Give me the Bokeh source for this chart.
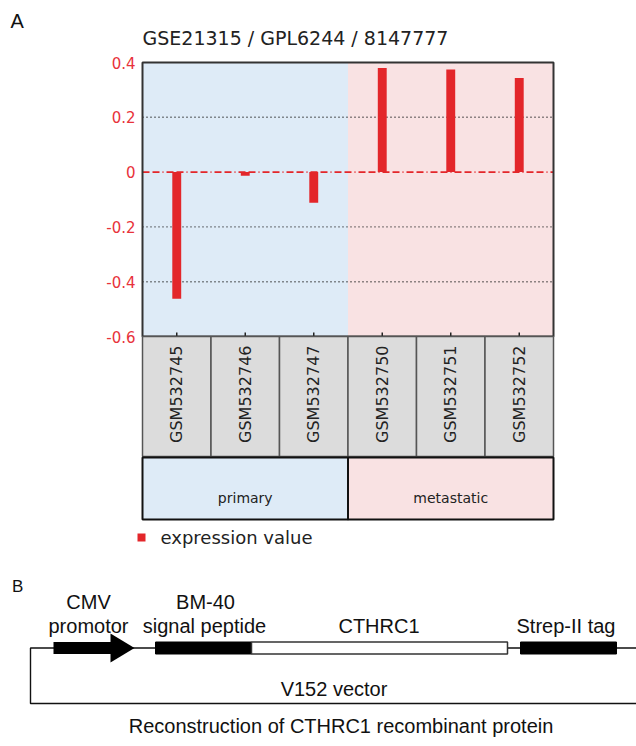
from bokeh.plotting import figure
from bokeh.models import Range1d
from bokeh.core.properties import value
from bokeh.embed import file_html
from bokeh.resources import INLINE

# ---------------- data (panel A) ----------------
samples = ["GSM532745", "GSM532746", "GSM532747", "GSM532750", "GSM532751", "GSM532752"]
expression = [-0.462, -0.013, -0.112, 0.380, 0.374, 0.343]
sample_group = ["primary", "primary", "primary", "metastatic", "metastatic", "metastatic"]
group_names = ["primary", "metastatic"]
group_colors = ["#deebf7", "#f9e2e3"]
y_ticks = [0.4, 0.2, 0, -0.2, -0.4, -0.6]
grid_ticks = [0.2, -0.2, -0.4]
title_text = "GSE21315 / GPL6244 / 8147777"
legend_text = "expression value"

# ---------------- data (panel B, schematic) ----------------
b_labels = ["CMV", "promotor", "BM-40", "signal peptide", "CTHRC1", "Strep-II tag", "V152 vector"]
b_caption = "Reconstruction of CTHRC1 recombinant protein"

RED = "#e3262a"
TICK_RED = "#e8323a"
FONT_A = "DejaVu Sans"
FONT_B = "Liberation Sans"
W, H = 636, 746

# layout: panel-A box left edge at px 142, value 0.4 at px 62
PXX = 411 / 6.0     # px per category
PXY = 274.0         # px per unit of expression
n = len(samples)
idx = list(range(n))
y_lo, y_hi = min(y_ticks), max(y_ticks)
x_start = -0.5 - 142 / PXX
x_end = x_start + W / PXX
y_end = y_hi + 62 / PXY
y_start = y_end - H / PXY

p = figure(width=W, height=H, x_range=Range1d(x_start, x_end),
           y_range=Range1d(y_start, y_end), output_backend="svg",
           toolbar_location=None, x_axis_location=None, y_axis_location=None,
           min_border_left=0, min_border_right=0, min_border_top=0, min_border_bottom=0)
p.outline_line_color = None
p.grid.visible = False
p.extra_x_ranges = {"px": Range1d(0, W)}
p.extra_y_ranges = {"px": Range1d(H, 0)}

# group background bands
band_l, band_r = [], []
for gname in group_names:
    members = [i for i in idx if sample_group[i] == gname]
    band_l.append(min(members) - 0.5)
    band_r.append(max(members) + 0.5)
p.quad(left=band_l, right=band_r, bottom=y_lo, top=y_hi,
       fill_color=group_colors, line_color=None)

# dotted grid lines
p.segment(x0=[-0.5] * len(grid_ticks), x1=[n - 0.5] * len(grid_ticks),
          y0=grid_ticks, y1=grid_ticks, line_color="#222222",
          line_width=1.4, line_dash="1 3")
# zero line
p.segment(x0=[-0.5], x1=[n - 0.5], y0=[0], y1=[0], line_color=RED,
          line_width=1.6, line_dash="7 3 7 3 1 3")

# bars
p.vbar(x=idx, top=expression, bottom=0, width=0.13, fill_color=RED, line_color=None)

# plot box
p.quad(left=[-0.5], right=[n - 0.5], bottom=[y_lo], top=[y_hi],
       fill_color=None, line_color="#333333", line_width=2)
# bottom ticks
p.segment(x0=idx, x1=idx, y0=[y_lo] * n, y1=[y_lo + 4 / PXY] * n,
          line_color="#222222", line_width=1.5)

# y tick labels (positioned by the value scale)
p.text(x=[-0.5] * len(y_ticks), y=y_ticks, text=[f"{t:g}" for t in y_ticks],
       x_offset=-7, text_align="right", text_baseline="middle",
       text_font=value(FONT_A), text_font_size="15px", text_color=TICK_RED)

# sample label boxes
box_top = y_lo
box_bot = y_lo - 120 / PXY
p.quad(left=[i - 0.5 for i in idx], right=[i + 0.5 for i in idx],
       top=box_top, bottom=box_bot, fill_color="#dcdcdc",
       line_color="#555555", line_width=1.5)
p.text(x=idx, y=[y_lo - 9 / PXY] * n, text=samples, angle=1.5708,
       text_align="right", text_baseline="middle",
       text_font=value(FONT_A), text_font_size="16px", text_color="#222222")

# group boxes
gtop = y_lo - 121 / PXY
gbot = y_lo - 183 / PXY
p.quad(left=band_l, right=band_r, top=gtop, bottom=gbot,
       fill_color=group_colors, line_color="#111111", line_width=2)
p.text(x=[(l + r) / 2 for l, r in zip(band_l, band_r)],
       y=[y_lo - 161 / PXY] * len(group_names), text=group_names,
       text_align="center", text_baseline="middle",
       text_font=value(FONT_A), text_font_size="14px", text_color="#222222")

# legend
leg_y = y_lo - 201 / PXY
p.scatter(x=[-0.5 - 1 / PXX], y=[leg_y], marker="square", size=8,
          fill_color=RED, line_color=None)
p.text(x=[-0.5 + 18 / PXX], y=[leg_y], text=[legend_text],
       text_align="left", text_baseline="middle",
       text_font=value(FONT_A), text_font_size="18px", text_color="#222222")

# title
p.text(x=[-0.5], y=[y_hi + 24.7 / PXY], text=[title_text], text_align="left",
       text_baseline="middle", text_font=value(FONT_A),
       text_font_size="19px", text_color="#222222")

kw = dict(x_range_name="px", y_range_name="px")

# panel letters
p.text(x=[10], y=[20], text=["A"], text_align="left", text_baseline="middle",
       text_font=value(FONT_B), text_font_size="20px", text_color="#111111", **kw)
p.text(x=[11.5], y=[586], text=["B"], text_align="left", text_baseline="middle",
       text_font=value(FONT_B), text_font_size="17px", text_color="#111111", **kw)

# ---------------- panel B (page-pixel coordinates) ----------------
p.line(x=[W, 30, 30, W], y=[647.5, 647.5, 703, 703], line_color="#111111",
       line_width=1.4, **kw)
p.quad(left=[53], right=[111], top=[641.5], bottom=[653.5],
       fill_color="#000000", line_color=None, **kw)
p.patch(x=[110, 134, 110], y=[633, 647.5, 662], fill_color="#000000",
        line_color=None, **kw)
p.quad(left=[155, 520], right=[251, 616], top=[641.5, 641.5], bottom=[653.5, 653.5],
       fill_color="#000000", line_color="#000000", line_width=1, **kw)
p.quad(left=[251], right=[507], top=[641.5], bottom=[653.5],
       fill_color="#ffffff", line_color="#333333", line_width=1.5, **kw)

p.text(x=[88, 88, 205, 204, 378.5, 565.5, 333.5],
       y=[601.5, 625, 601.5, 625, 625, 625, 688.5], text=b_labels,
       text_align="center", text_baseline="middle",
       text_font=value(FONT_B), text_font_size="20px", text_color="#111111", **kw)
p.text(x=[340.5], y=[725.5], text=[b_caption], text_align="center",
       text_baseline="middle", text_font=value(FONT_B),
       text_font_size="20px", text_color="#111111", **kw)

open("out.html", "w").write(file_html(p, INLINE))
